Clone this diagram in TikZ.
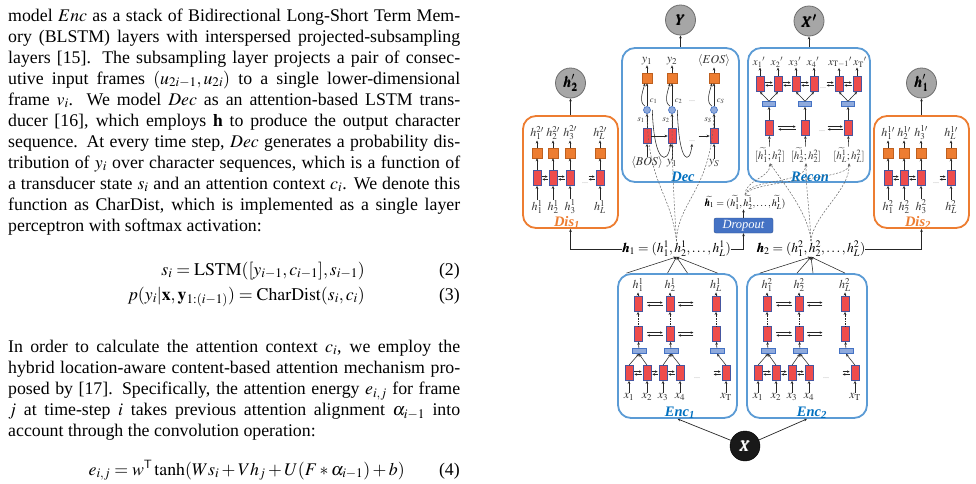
\documentclass[tikz,border=0pt]{standalone}
\usepackage{amsmath}
\usepackage{mathptmx}
\usepackage{bm}
\usepackage{fontspec}
\setmainfont{Liberation Serif}
\usetikzlibrary{arrows.meta,calc}

\definecolor{cellr}{RGB}{238,76,76}
\definecolor{cellb}{RGB}{70,86,160}
\definecolor{orgf}{RGB}{237,125,49}
\definecolor{orgb}{RGB}{190,95,30}
\definecolor{blf}{RGB}{143,170,220}
\definecolor{blb}{RGB}{68,114,196}
\definecolor{boxblue}{RGB}{91,155,213}
\definecolor{boxorange}{RGB}{237,125,49}
\definecolor{lblue}{RGB}{0,112,192}
\definecolor{gfill}{RGB}{166,166,166}
\definecolor{gdraw}{RGB}{110,110,110}
\definecolor{dropf}{RGB}{68,114,196}
\definecolor{dropb}{RGB}{47,82,143}

\newcommand\jline[1]{\hbox to 452pt{#1}}
\newcommand\jlast[1]{\hbox to 452pt{#1\hfil}}

\tikzset{
  cell/.style={draw=cellb, fill=cellr, line width=0.7pt, minimum width=8pt, minimum height=15pt, inner sep=0pt},
  osq/.style={draw=orgb, fill=orgf, line width=0.5pt, minimum width=10pt, minimum height=10pt, inner sep=0pt},
  pbar/.style={draw=blb, fill=blf, line width=0.6pt, minimum width=13pt, minimum height=5pt, inner sep=0pt},
  att/.style={circle, draw=blb, fill=blf, line width=0.6pt, minimum size=7pt, inner sep=0pt},
  bbox/.style={draw=boxblue, line width=1.8pt, rounded corners=13pt},
  obox/.style={draw=boxorange, line width=1.8pt, rounded corners=13pt},
  gcirc/.style={circle, fill=gfill, draw=gdraw, line width=0.8pt, minimum size=30pt, inner sep=0pt, font=\fontsize{15}{15}\selectfont},
  ar/.style={-{Stealth[length=3pt,width=2.6pt]}, line width=0.55pt, draw=black!85},
  arb/.style={-{Stealth[length=2.6pt,width=2.4pt]}, line width=0.45pt, draw=black!85},
  lab/.style={inner sep=0.3pt, text=black!80, font=\fontsize{12}{12}\selectfont},
  rlab/.style={inner sep=0.3pt, text=black!80, font=\fontsize{11}{11}\selectfont},
  slab/.style={inner sep=0pt, text=black!80, font=\fontsize{8.5}{8.5}\selectfont},
  dotlab/.style={inner sep=0pt, text=black!60, font=\fontsize{6}{6}\selectfont},
  dsh/.style={dash pattern=on 2pt off 1.5pt, line width=0.5pt, draw=black!60},
  dsha/.style={dash pattern=on 2pt off 1.5pt, line width=0.5pt, draw=black!60, -{Stealth[length=3pt,width=2.6pt]}},
  blab/.style={anchor=base, inner sep=0pt, font=\fontsize{14.5}{15}\selectfont\bfseries\itshape},
}

\newcommand\BiA[2]{%
 \draw[arb,shorten <=1pt,shorten >=1pt] ([yshift=1.4pt]#1.east) -- ([yshift=1.4pt]#2.west);
 \draw[arb,shorten <=1pt,shorten >=1pt] ([yshift=-1.4pt]#2.west) -- ([yshift=-1.4pt]#1.east);}
\newcommand\BiP[4]{%
 \draw[arb] ([xshift=#2,yshift=1.4pt]#1) -- ([xshift=#4,yshift=1.4pt]#3);
 \draw[arb] ([xshift=#4,yshift=-1.4pt]#3) -- ([xshift=#2,yshift=-1.4pt]#1);}

\newcommand\DisBlock[3]{%
 \foreach \i/\x/\t in {1/537/1, 2/553/2, 3/570/3, 4/600/L}{
  \node[lab] (#1t\i) at (\x,133) {$h^{#2\prime}_{\t}$};
  \node[osq] (#1s\i) at (\x,153) {};
  \node[cell] (#1c\i) at (\x,178) {};
  \node[lab] (#1b\i) at (\x,207) {$h^{#3}_{\t}$};
  \draw[ar] (#1b\i) -- (#1c\i);
  \draw[ar] (#1c\i) -- (#1s\i);
  \draw[ar] (#1s\i) -- (#1t\i);
 }
 \BiA{#1c1}{#1c2}\BiA{#1c2}{#1c3}
 \node[dotlab] (#1d) at (585,183) {\ldots};
 \BiP{#1c4.west}{-7pt}{#1c4.west}{-1pt}
}

\newcommand\EncBlock[2]{%
 \foreach \k/\x/\hi in {1/638/1, 2/670/2, 3/716/L}{
  \node[lab] (#1h\k) at (\x,285) {$h^{#2}_{\hi}$};
  \node[cell] (#1t\k) at (\x,304) {};
  \node[cell] (#1m\k) at (\x,334) {};
  \node[pbar, minimum width=14pt] (#1b\k) at (\x+1,351) {};
  \draw[ar] (#1t\k) -- (#1h\k);
  \draw[ar, densely dotted] (#1m\k) -- (#1t\k);
  \draw[ar] (#1b\k) -- (#1m\k);
 }
 \foreach \j/\x/\xl in {1/629/1, 2/647/2, 3/663/3, 4/680/4, 5/726/{\mathrm{T}}}{
  \node[cell] (#1c\j) at (\x,373) {};
  \node[lab] (#1x\j) at (\x,397) {$x_{\xl}$};
  \draw[ar] (#1x\j) -- (#1c\j);
 }
 \draw[ar] (#1c1.north) -- (#1b1.south);
 \draw[ar] (#1c2.north) -- (#1b1.south);
 \draw[ar] (#1c3.north) -- (#1b2.south);
 \draw[ar] (#1c4.north) -- (#1b2.south);
 \draw[ar] (#1c5.north) -- (#1b3.south);
 \BiP{#1t1.east}{5pt}{#1t2.west}{-3pt}
 \BiP{#1t2.east}{4pt}{#1t2.east}{19pt}
 \BiP{#1m1.east}{5pt}{#1m2.west}{-3pt}
 \BiP{#1m2.east}{4pt}{#1m2.east}{19pt}
 \BiA{#1c1}{#1c2}\BiA{#1c2}{#1c3}\BiA{#1c3}{#1c4}
 \node[dotlab] (#1d) at (697,378) {\ldots};
 \BiP{#1c5.west}{-8pt}{#1c5.west}{-1pt}
}

\begin{document}
\begin{tikzpicture}[x=1pt,y=-1pt]
\fill[white] (0,0) rectangle (976,483);
\useasboundingbox (0,0) rectangle (976,483);

% ---------------- text column ----------------
\node[anchor=base west, inner sep=0pt] (para1) at (8,21) {\fontsize{17.8}{21}\selectfont\vtop{%
\jline{model $Enc$ as a stack of Bidirectional Long-Short Term Mem-}
\jline{ory (BLSTM) layers with interspersed projected-subsampling}
\jline{layers [15]. The subsampling layer projects a pair of consec-}
\jline{utive input frames $(u_{2i-1}, u_{2i})$ to a single lower-dimensional}
\jline{frame $v_i$. We model $Dec$ as an attention-based LSTM trans-}
\jline{ducer [16], which employs $\mathbf{h}$ to produce the output character}
\jline{sequence. At every time step, $Dec$ generates a probability dis-}
\jline{tribution of $y_i$ over character sequences, which is a function of}
\jline{a transducer state $s_i$ and an attention context $c_i$. We denote this}
\jline{function as CharDist, which is implemented as a single layer}
\jlast{perceptron with softmax activation:}}};

\node[anchor=base east, inner sep=0pt] (eq2) at (365,275) {\fontsize{17.8}{21}\selectfont $s_i = \mathrm{LSTM}([y_{i-1}, c_{i-1}], s_{i-1})$};
\node[anchor=base east, inner sep=0pt] (eqn2) at (460,275) {\fontsize{17.8}{21}\selectfont (2)};
\node[anchor=base east, inner sep=0pt] (eq3) at (365,300) {\fontsize{17.8}{21}\selectfont $p(y_i|\mathbf{x}, \mathbf{y}_{1:(i-1)}) = \mathrm{CharDist}(s_i, c_i)$};
\node[anchor=base east, inner sep=0pt] (eqn3) at (460,300) {\fontsize{17.8}{21}\selectfont (3)};

\node[anchor=base west, inner sep=0pt] (para2) at (8,352) {\fontsize{17.8}{21.2}\selectfont\vtop{%
\jline{In order to calculate the attention context $c_i$, we employ the}
\jline{hybrid location-aware content-based attention mechanism pro-}
\jline{posed by [17]. Specifically, the attention energy $e_{i,j}$ for frame}
\jline{$j$ at time-step $i$ takes previous attention alignment $\alpha_{i-1}$ into}
\jlast{account through the convolution operation:}}};

\node[anchor=base east, inner sep=0pt] (eq4) at (405,475) {\fontsize{17.8}{21}\selectfont $e_{i,j} = w^{\mathsf{T}}\tanh(Ws_i + Vh_j + U(F*\alpha_{i-1}) + b)$};
\node[anchor=base east, inner sep=0pt] (eqn4) at (460,475) {\fontsize{17.8}{21}\selectfont (4)};

% ---------------- diagram: boxes ----------------
\node[obox, minimum width=95pt, minimum height=112pt] (dis1) at (570.5,172) {};
\node[obox, minimum width=95pt, minimum height=112pt] (dis2) at (921.5,172) {};
\node[bbox, minimum width=117pt, minimum height=134pt] (dec) at (680.5,115) {};
\node[bbox, minimum width=122pt, minimum height=134pt] (recon) at (809,115) {};
\node[bbox, minimum width=119pt, minimum height=144pt] (enc1) at (677.5,346) {};
\node[bbox, minimum width=120pt, minimum height=144pt] (enc2) at (807,346) {};

% circles
\node[gcirc] (Y) at (680.5,20) {$\bm{Y}$};
\node[gcirc] (Xp) at (809,21) {$\bm{X'}$};
\node[gcirc] (h2p) at (570.5,83) {$\bm{h_2}'$};
\node[gcirc] (h1p) at (921.5,83) {$\bm{h_1}'$};
\node[circle, fill=black!90, draw=black, minimum size=30pt, inner sep=0pt, text=white, font=\fontsize{15}{15}\selectfont] (X) at (745,446) {$\bm{X}$};

% ---------------- Dis blocks ----------------
\DisBlock{da}{2}{1}
\begin{scope}[xshift=351pt]
\DisBlock{db}{1}{2}
\end{scope}

% ---------------- Enc blocks ----------------
\EncBlock{ea}{1}
\begin{scope}[xshift=129pt]
\EncBlock{eb}{2}
\end{scope}

% ---------------- Dec ----------------
\foreach \i/\x/\dt/\ds/\di in {1/647/{$y_1$}/1/{$\langle BOS\rangle$}, 2/672/{$y_2$}/2/{$y_1$}, 3/714/{$\langle EOS\rangle$}/S/{$y_S$}}{
  \node[lab] (dct\i) at (\x,61) {\dt};
  \node[osq] (dcq\i) at (\x,78) {};
  \node[att] (dca\i) at (\x,110) {};
  \node[cell] (dcc\i) at (\x,136) {};
  \node[lab] (dcb\i) at (\x,163) {\di};
  \node[slab] (dcl\i) at (\x+6.5,101) {$c_{\ds}$};
  \node[slab] (dsl\i) at (\x-6,120) {$s_{\ds}$};
  \draw[ar] (dcb\i) -- (dcc\i);
  \draw[ar] (dcc\i) -- (dca\i);
  \draw[ar] (dca\i) -- (dcq\i);
  \draw[ar] (dcq\i) -- (dct\i);
  \draw[ar] ([xshift=-2pt]dca\i.north) .. controls +(-6,-4) and +(-3,10) .. ([xshift=-2pt]dcq\i.south);
}
\node[dotlab] (dcd1) at (692,101) {\ldots};
\node[dotlab] (dcd2) at (692,141) {\ldots};
\draw[ar] (dcc1) -- (dcc2);
\draw[ar] ([xshift=-11pt]dcc3.west) -- (dcc3.west);
\draw[ar] ([xshift=1.5pt]dca1.east) .. controls (654,165) and (668,165) .. ([xshift=-1.5pt]dcc2.south);
\draw[ar] ([xshift=1.5pt]dca2.east) .. controls (679,165) and (690,165) .. ([xshift=20pt]dcc2.south);

% ---------------- Recon ----------------
\foreach \i/\x/\t in {1/759/{$x_1{}'$}, 2/777/{$x_2{}'$}, 3/795/{$x_3{}'$}, 4/813/{$x_4{}'$}, 5/840/{$x_{\mathrm{T}-1}{}'$}, 6/860/{$x_{\mathrm{T}}{}'$}}{
  \node[rlab] (rct\i) at (\x,62) {\t};
}
\foreach \i/\x in {1/760, 2/778, 3/796, 4/814, 5/839, 6/857}{
  \node[cell] (rcc\i) at (\x,84) {};
  \draw[ar] (rcc\i) -- (rcc\i |- rct\i.south);
}
\foreach \k/\x/\a/\b/\hi in {1/769/1/2/1, 2/805/3/4/2, 3/848/5/6/L}{
  \node[pbar] (rcb\k) at (\x,104) {};
  \node[cell] (rcm\k) at (\x,128) {};
  \node[rlab] (rci\k) at (\x+1,155) {$[\widetilde{h^1_{\hi}};h^2_{\hi}]$};
  \draw[ar] (rci\k) -- (rcm\k);
  \draw[ar] (rcm\k) -- (rcb\k);
  \draw[ar] (rcb\k.north) -- (rcc\a.south);
  \draw[ar] (rcb\k.north) -- (rcc\b.south);
}
\BiA{rcc1}{rcc2}\BiA{rcc2}{rcc3}\BiA{rcc3}{rcc4}\BiA{rcc5}{rcc6}
\node[dotlab] (rcd1) at (823,88) {\ldots};
\BiP{rcc5.west}{-8pt}{rcc5.west}{-1pt}
\BiP{rcm1.east}{5pt}{rcm2.west}{-5pt}
\node[dotlab] (rcd2) at (822,131) {\ldots};
\BiP{rcm3.west}{-16pt}{rcm3.west}{-1pt}

% box labels
\node[blab, text=lblue] (declab) at (683,181) {Dec};
\node[blab, text=lblue] (reclab) at (810,181) {Recon};
\node[blab, text=boxorange] (dis1lab) at (567,226) {Dis\textsubscript{1}};
\node[blab, text=boxorange] (dis2lab) at (918,226) {Dis\textsubscript{2}};
\node[blab, text=lblue] (enc1lab) at (680,416) {Enc\textsubscript{1}};
\node[blab, text=lblue] (enc2lab) at (812,416) {Enc\textsubscript{2}};

% ---------------- middle labels ----------------
\node[inner sep=0pt, font=\fontsize{13.5}{13.5}\selectfont] (h1lab) at (676.5,249) {$\bm{h}_1 = (h^1_1, h^1_2, \ldots, h^1_L)$};
\node[inner sep=0pt, font=\fontsize{13.5}{13.5}\selectfont] (h2lab) at (811,249) {$\bm{h}_2 = (h^2_1, h^2_2, \ldots, h^2_L)$};
\node[inner sep=0pt, font=\fontsize{10}{10}\selectfont] (htl) at (745,202) {$\widetilde{\bm{h}_1} = (\widetilde{h^1_1}, \widetilde{h^1_2}, \ldots, \widetilde{h^1_L})$};
\node[fill=dropf, draw=dropb, rounded corners=2pt, minimum width=59pt, minimum height=15pt, inner sep=0pt, text=white, font=\fontsize{12.5}{12}\selectfont\itshape] (drop) at (743.5,225.5) {Dropout};

% connectors
\draw[ar, line width=0.7pt] (h1lab.west) -| (dis1.south);
\draw[ar, line width=0.7pt] (h1lab.east) -| (drop.south);
\draw[ar, line width=0.7pt] (drop.north) -- (drop.north |- htl.south);
\draw[ar, line width=0.7pt] (h2lab.east) -| (dis2.south);
\draw[ar, line width=0.7pt] (dis1.north) -- (h2p.south);
\draw[ar, line width=0.7pt] (dis2.north) -- (h1p.south);
\draw[ar, line width=0.7pt] (dec.north) -- (Y.south);
\draw[ar, line width=0.7pt] (recon.north) -- (Xp.south);
\draw[ar, line width=0.7pt] (X) -- (enc1.south);
\draw[ar, line width=0.7pt] (X) -- (enc2.south);

% encoder outputs converge
\draw[ar] ([xshift=-51pt]enc1.north) -- (h1lab.south);
\draw[ar] ([xshift=-10pt]enc1.north) -- (h1lab.south);
\draw[ar] ([xshift=10pt]enc1.north) -- (h1lab.south);
\draw[ar] ([xshift=40pt]enc1.north) -- (h1lab.south);
\draw[ar] ([xshift=-47pt]enc2.north) -- (h2lab.south);
\draw[ar] ([xshift=-10pt]enc2.north) -- (h2lab.south);
\draw[ar] ([xshift=6pt]enc2.north) -- (h2lab.south);
\draw[ar] ([xshift=38pt]enc2.north) -- (h2lab.south);

% attention (dashed) to decoder
\draw[dsh] (h1lab.north) .. controls (670,190) and (648,185) .. (dca1.south);
\draw[dsh] (h1lab.north) .. controls (674,200) and (672,170) .. (dca2.south);
\draw[dsh] (h1lab.north) .. controls (678,200) and (712,190) .. (dca3.south);

% dashed to reconstruction inputs
\draw[dsha] (h2lab.north) .. controls (809,215) and (785,185) .. (rci1.south);
\draw[dsha] (h2lab.north) .. controls (810,215) and (806,190) .. (rci2.south);
\draw[dsha] (h2lab.north) .. controls (813,215) and (850,190) .. (rci3.south);
\draw[dsha] (htl.north) .. controls (745,180) and (770,178) .. (rci1.south);
\draw[dsha] (htl.north) .. controls (750,178) and (805,185) .. (rci2.south);
\draw[dsha] (htl.north) .. controls (752,180) and (850,180) .. (rci3.south);
\end{tikzpicture}
\end{document}
